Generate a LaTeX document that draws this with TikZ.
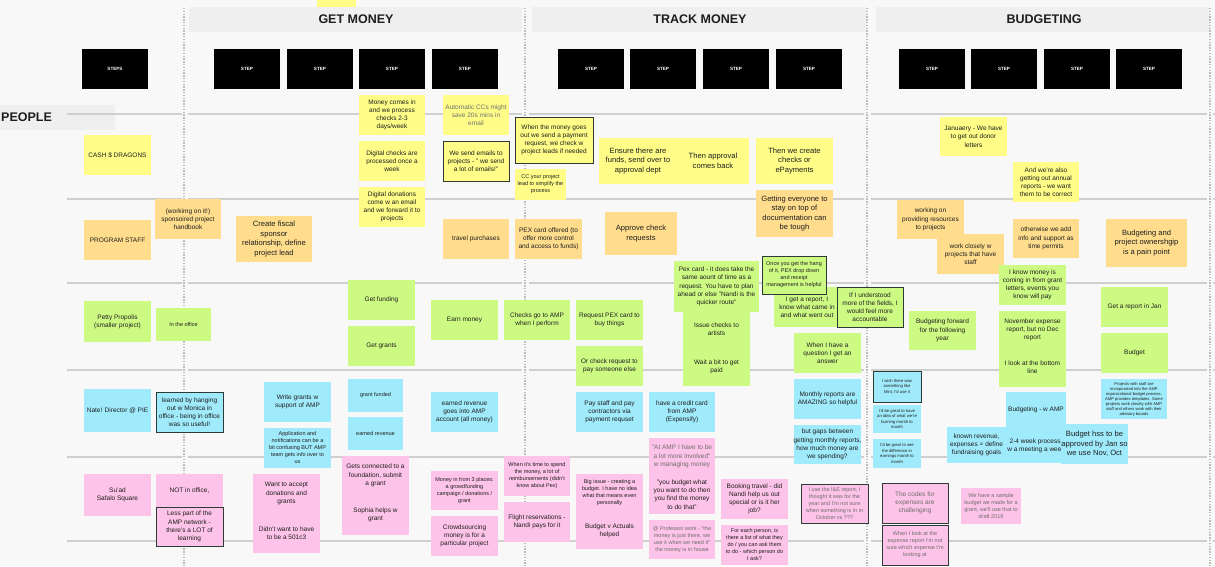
\documentclass[tikz,border=0pt]{standalone}
\usepackage{fontspec}
\setmainfont{Liberation Sans}
\definecolor{boardbg}{HTML}{F8F8F8}
\definecolor{bandgrey}{HTML}{EFEFEF}
\definecolor{rulegrey}{HTML}{CFCFCF}
\definecolor{dotgrey}{HTML}{BDBDBD}
\definecolor{noteink}{HTML}{1E1E1E}
\definecolor{fadedink}{HTML}{6E6E6E}
\definecolor{frameink}{HTML}{2E3A36}
\definecolor{stickyyellow}{HTML}{FFFD87}
\definecolor{stickyorange}{HTML}{FFDD8D}
\definecolor{stickygreen}{HTML}{CDFA83}
\definecolor{stickyblue}{HTML}{A0EBFB}
\definecolor{stickypink}{HTML}{FDC3E8}

\begin{document}
\begin{tikzpicture}[
  x=1pt,
  y=-1pt,
  every node/.style={text=noteink},
  note/.style={inner sep=0pt, outer sep=0pt, align=center,
               font=\fontsize{6.5}{8.2}\selectfont},
  sz/.style 2 args={minimum width=#1, minimum height=#2},
  yel/.style={note, fill=stickyyellow},
  org/.style={note, fill=stickyorange},
  grn/.style={note, fill=stickygreen},
  blu/.style={note, fill=stickyblue},
  pnk/.style={note, fill=stickypink},
  fbig/.style={font=\fontsize{7.6}{9.6}\selectfont},
  fsmall/.style={font=\fontsize{5.5}{7}\selectfont},
  ftiny/.style={font=\fontsize{4.2}{5.6}\selectfont},
  fmicro/.style={font=\fontsize{4.1}{5}\selectfont},
  faded/.style={text=fadedink},
  framed/.style={draw=frameink, line width=0.9pt},
  stepbox/.style={fill=black, text=white, minimum width=66, minimum height=40,
                  inner sep=0pt, font=\fontsize{4.6}{5}\selectfont\bfseries},
  lane/.style={inner sep=1pt, font=\fontsize{12.5}{14}\selectfont\bfseries},
  rowline/.style={rulegrey, line width=1.2pt},
  colline/.style={dotgrey, line width=1.4pt, dash pattern=on 1.4pt off 1.4pt}
]
  \useasboundingbox (0,0) rectangle (1215,566);
  \fill[boardbg] (0,0) rectangle (1215,566);

  %% ---- 標題帶與人物欄 ----------------------------------------------------
  \fill[bandgrey] (189,7) rectangle (522,32);
  \fill[bandgrey] (532,7) rectangle (867,32);
  \fill[bandgrey] (876,7) rectangle (1210,32);
  \fill[bandgrey] (0,105) rectangle (115,130);
  \fill[stickyyellow] (317,0) rectangle (356,7);

  \node[lane] (getmoney) at (356,19.5) {GET MONEY};
  \node[lane] (trackmoney) at (700,19.5) {TRACK MONEY};
  \node[lane] (budgeting) at (1044,19.5) {BUDGETING};
  \node[lane, anchor=west] (people) at (0,117.5) {PEOPLE};

  %% ---- 格線 --------------------------------------------------------------
  \foreach \ry in {114,199,283,370,457,541}
    \foreach \xa/\xb in {67/182,188/522,529/864,871/1207,1213/1215}
      \draw[rowline] (\xa,\ry) -- (\xb,\ry);
  \foreach \cx in {184,525,867,1210}
    \draw[colline] (\cx,8) -- (\cx,566);

  %% ---- 步驟方塊 ----------------------------------------------------------
  \node[stepbox] (steps) at (115,69) {STEPS};
  \foreach \cx [count=\i] in {247,320,392,465,591,663,736,809,932,1004,1077,1149}
    \node[stepbox] (step\i) at (\cx,69) {STEP};

  %% ---- 第一列：CASH $ DRAGONS（黃） --------------------------------------
  \node[yel, sz={67}{40}] (cash) at (117.5,155) {CASH \$ DRAGONS};
  \node[yel, sz={66}{40}] (comesin) at (392,115)
    {Money comes in\\and we process\\checks 2-3\\days/week};
  \node[yel, sz={66}{40}] (digchecks) at (392,161)
    {Digital checks are\\processed once a\\week};
  \node[yel, sz={66}{40}] (digdonations) at (392,207)
    {Digital donations\\come w an email\\and we forward it to\\projects};
  \node[yel, faded, sz={66}{40}] (autocc) at (476,115)
    {Automatic CCs might\\save 20s mins in\\email};
  \node[yel, framed, sz={66}{40}] (emails) at (476,161)
    {We send emails to\\projects - " we send\\a lot of emails!"};
  \node[yel, framed, sz={78}{46}] (payreq) at (554,140)
    {When the money goes\\out we send a payment\\request, we check w\\project leads if needed};
  \node[yel, fsmall, sz={51}{31}] (cclead) at (540.5,184.5)
    {CC your project\\lead to simplify the\\process};
  \node[yel, fbig, sz={78}{46}] (ensure) at (638,161)
    {Ensure there are\\funds, send over to\\approval dept};
  \node[yel, fbig, sz={72}{46}] (approval) at (713,161)
    {Then approval\\comes back};
  \node[yel, fbig, sz={77}{46}] (create) at (794.5,161)
    {Then we create\\checks or\\ePayments};
  \node[yel, sz={67}{39}] (january) at (973.5,136.5)
    {Januaery - We have\\to get out donor\\letters};
  \node[yel, sz={66}{40}] (annual) at (1046,182)
    {And we're also\\getting out annual\\reports - we want\\them to be correct};

  %% ---- 第二列：PROGRAM STAFF（橙） ---------------------------------------
  \node[org, sz={67}{40}] (progstaff) at (117.5,240) {PROGRAM STAFF};
  \node[org, sz={66}{40}] (handbook) at (188,219)
    {(workimg on it!)\\sponsoired project\\handbook};
  \node[org, fbig, sz={76}{46}] (fiscal) at (274,239)
    {Create fiscal\\sponsor\\relationship, define\\project lead};
  \node[org, sz={66}{40}] (travel) at (476,239) {travel purchases};
  \node[org, sz={67}{40}] (pexoffer) at (548.5,239)
    {PEX card offered (to\\offer more control\\and access to funds)};
  \node[org, fbig, sz={72}{43}] (approvechk) at (641,233.5)
    {Approve check\\requests};
  \node[org, fbig, sz={77}{47}] (docs) at (794.5,213.5)
    {Getting everyone to\\stay on top of\\documentation can\\be tough};
  \node[org, sz={67}{39}] (resources) at (930.5,219.5)
    {working on\\providing resources\\to projects};
  \node[org, sz={67}{40}] (closely) at (970.5,254)
    {work closely w\\projects that have\\staff};
  \node[org, sz={66}{39}] (permits) at (1046,238.5)
    {otherwise we add\\info and support as\\time permits};
  \node[org, fbig, sz={81}{48}] (painpoint) at (1146.5,243)
    {Budgeting and\\project ownershgip\\is a pain point};

  %% ---- 第三列：Petty Propolis（綠） --------------------------------------
  \node[grn, sz={67}{41}] (petty) at (117.5,321.5)
    {Petty Propolis\\(smaller project)};
  \node[grn, fsmall, sz={55}{33}] (office) at (183.5,324.5) {In the office};
  \node[grn, sz={67}{40}] (funding) at (381.5,300) {Get funding};
  \node[grn, sz={67}{40}] (grants) at (381.5,346) {Get grants};
  \node[grn, sz={67}{40}] (earn) at (464.5,320) {Earn money};
  \node[grn, sz={66}{40}] (perform) at (537,320)
    {Checks go to AMP\\when I perform};
  \node[grn, sz={67}{40}] (reqpex) at (609.5,320)
    {Request PEX card to\\buy things};
  \node[grn, sz={67}{40}] (chkreq) at (609.5,366)
    {Or check request to\\pay someone else};
  \node[grn, sz={85}{51}] (pexcard) at (716.5,286.5)
    {Pex card - it does take the\\same aount of time as a\\request. You have to plan\\ahead or else "Nandi is the\\quicker route"};
  \node[grn, sz={67}{35}] (issue) at (716.5,329.5)
    {Issue checks to\\artists};
  \node[grn, sz={67}{39}] (waitpaid) at (716.5,366.5)
    {Wait a bit to get\\paid};
  \node[grn, sz={66}{40}] (report) at (807,307)
    {I get a report, I\\know what came in\\and what went out};
  \node[grn, framed, fsmall, sz={64}{38}] (hang) at (794,275)
    {Once you get the hang\\of it, PEX drop down\\and receipt\\management is helpful};
  \node[grn, framed, sz={66}{40}] (understood) at (870,307)
    {If I understood\\more of the fields, I\\would feel more\\accountable};
  \node[grn, sz={67}{40}] (question) at (827.5,353)
    {When I have a\\question I get an\\answer};
  \node[grn, sz={67}{39}] (forward) at (942.5,330.5)
    {Budgeting forward\\for the following\\year};
  \node[grn, sz={67}{40}] (letters) at (1032.5,285)
    {I know money is\\coming in from grant\\letters, events you\\know will pay};
  \node[grn, sz={67}{38}] (november) at (1032.5,330)
    {November expense\\report, but no Dec\\report};
  \node[grn, sz={67}{38}] (bottomline) at (1032.5,367.5)
    {I look at the bottom\\line};
  \node[grn, sz={67}{40}] (janreport) at (1134.5,307) {Get a report in Jan};
  \node[grn, sz={67}{40}] (budget) at (1134.5,353) {Budget};

  %% ---- 第四列：Nate!（藍） -----------------------------------------------
  \node[blu, sz={67}{43}] (nate) at (117.5,410.5) {Nate! Director @ PIE};
  \node[blu, framed, sz={67}{40}] (monica) at (189.5,412)
    {learned by hanging\\out w Monica in\\office - being in office\\was so useful!};
  \node[blu, sz={67}{40}] (writegrants) at (297.5,402)
    {Write grants w\\support of AMP};
  \node[blu, fsmall, sz={67}{40}] (application) at (297.5,448)
    {Application and\\notifications can be a\\bit confusing BUT AMP\\team gets info over to\\us};
  \node[blu, fsmall, sz={55}{33}] (grantfunded) at (375.5,395.5) {grant funded};
  \node[blu, fsmall, sz={55}{33}] (earnedrev) at (375.5,433.5) {earned revenue};
  \node[blu, sz={67}{40}] (earnacct) at (464.5,412)
    {earned revenue\\goes into AMP\\account (all money)};
  \node[blu, sz={67}{40}] (paystaff) at (609.5,412)
    {Pay staff and pay\\contractors via\\payment requset};
  \node[blu, sz={66}{40}] (credit) at (682,412)
    {have a credit card\\from AMP\\(Expensify)};
  \node[blu, sz={67}{40}] (monthly) at (827.5,399)
    {Monthly reports are\\AMAZING so helpful};
  \node[blu, sz={67}{39}] (gaps) at (827.5,444.5)
    {but gaps between\\getting monthly reports,\\how much money are\\we spending?};
  \node[blu, framed, ftiny, sz={48}{31}] (mint) at (897,386.5)
    {I wish there was\\something like\\Mint, I'd use it};
  \node[blu, ftiny, sz={48}{28}] (burning) at (897,419)
    {I'd be great to have\\an idea of what we're\\burning month to\\month};
  \node[blu, ftiny, sz={48}{29}] (earnings) at (897,453.5)
    {I'd be great to see\\the difference in\\earnings month to\\month};
  \node[blu, sz={59}{36}] (known) at (976.5,445)
    {known revenue,\\expenses = define\\fundraising goals};
  \node[blu, sz={60}{36}] (withamp) at (1036,410) {Budgeting - w AMP};
  \node[blu, sz={60}{35}] (process) at (1036,445.5)
    {2-4 week process,\\w a meeting a week};
  \node[blu, fbig, sz={67}{40}] (approved) at (1094.5,444)
    {Budget hss to be\\approved by Jan so\\we use Nov, Oct};
  \node[blu, fmicro, sz={66}{40}] (templates) at (1134,399)
    {Projects with staff are\\incorporated into the AMP\\organizational budget process.\\AMP provides templates. Some\\projects work closely with AMP\\staff and others work with their\\advisory boards};

  %% ---- 第五列：Su'ad（粉紅） ---------------------------------------------
  \node[pnk, sz={67}{42}] (suad) at (117.5,495) {Su'ad\\Safalo Square};
  \node[pnk, sz={67}{33}] (notoffice) at (189.5,490.5) {NOT in office,};
  \node[pnk, framed, sz={67}{39}] (lesspart) at (189.5,526.5)
    {Less part of the\\AMP network -\\there's a LOT of\\learning};
  \node[pnk, sz={67}{39}] (accept) at (286.5,493.5)
    {Want to accept\\donations and\\grants};
  \node[pnk, sz={67}{40}] (fivecthree) at (286.5,533)
    {Didn't want to have\\to be a 501c3};
  \node[pnk, sz={67}{39}] (foundation) at (375.5,475.5)
    {Gets connected to a\\foundation, submit\\a grant};
  \node[pnk, sz={67}{40}] (sophia) at (375.5,515) {Sophia helps w\\grant};
  \node[pnk, fsmall, sz={67}{39}] (threeplaces) at (464.5,490.5)
    {Money in from 3 places:\\a growdfunding\\campaign / donations /\\grant};
  \node[pnk, sz={67}{40}] (crowd) at (464.5,536)
    {Crowdsourcing\\money is for a\\particular project};
  \node[pnk, fsmall, sz={66}{40}] (reimburse) at (537,476)
    {When it's time to spend\\the money, a lot of\\reimbursements (didn't\\know about Pex)};
  \node[pnk, sz={66}{40}] (flight) at (537,522)
    {Flight reservations -\\Nandi pays for it};
  \node[pnk, fsmall, sz={67}{38}] (bigissue) at (609.5,493)
    {Big issue - creating a\\budget. I have no idea\\what that means even\\personally};
  \node[pnk, sz={67}{37}] (actuals) at (609.5,530.5)
    {Budget v Actuals\\helped};
  \node[pnk, faded, sz={66}{37}] (involved) at (682,456.5)
    {"At AMP I have to be\\a lot more involved"\\w managing money};
  \node[pnk, sz={66}{39}] (youbudget) at (682,494.5)
    {"you budget what\\you want to do then\\you find the money\\to do that"};
  \node[pnk, faded, fsmall, sz={66}{39}] (professor) at (682,539.5)
    {@ Professor work - "the\\money is just there, we\\use it when we need it"\\the money is in house};
  \node[pnk, sz={67}{40}] (booking) at (754.5,499)
    {Booking travel - did\\Nandi help us out\\special or is it her\\job?};
  \node[pnk, fsmall, sz={67}{40}] (eachperson) at (754.5,545)
    {For each person, is\\there a list of what they\\do / you can ask them\\to do - which person do\\I ask?};
  \node[pnk, framed, faded, fsmall, sz={67}{39}] (iereport) at (834.5,503.5)
    {I use the I\&E report, I\\thought it was for the\\year and I'm not sure\\when something is in in\\October vs ???};
  \node[pnk, framed, faded, sz={66}{40}] (codes) at (915,503)
    {The codes for\\expenses are\\challenging};
  \node[pnk, framed, faded, fsmall, sz={66}{40}] (expreport) at (915,545)
    {When I look at the\\expense report I'm not\\sure which expense I'm\\looking at};
  \node[pnk, faded, fsmall, sz={60}{36}] (sample) at (991,506)
    {We have a sample\\budget we made for a\\grant, we'll use that to\\draft 2019};
\end{tikzpicture}
\end{document}
